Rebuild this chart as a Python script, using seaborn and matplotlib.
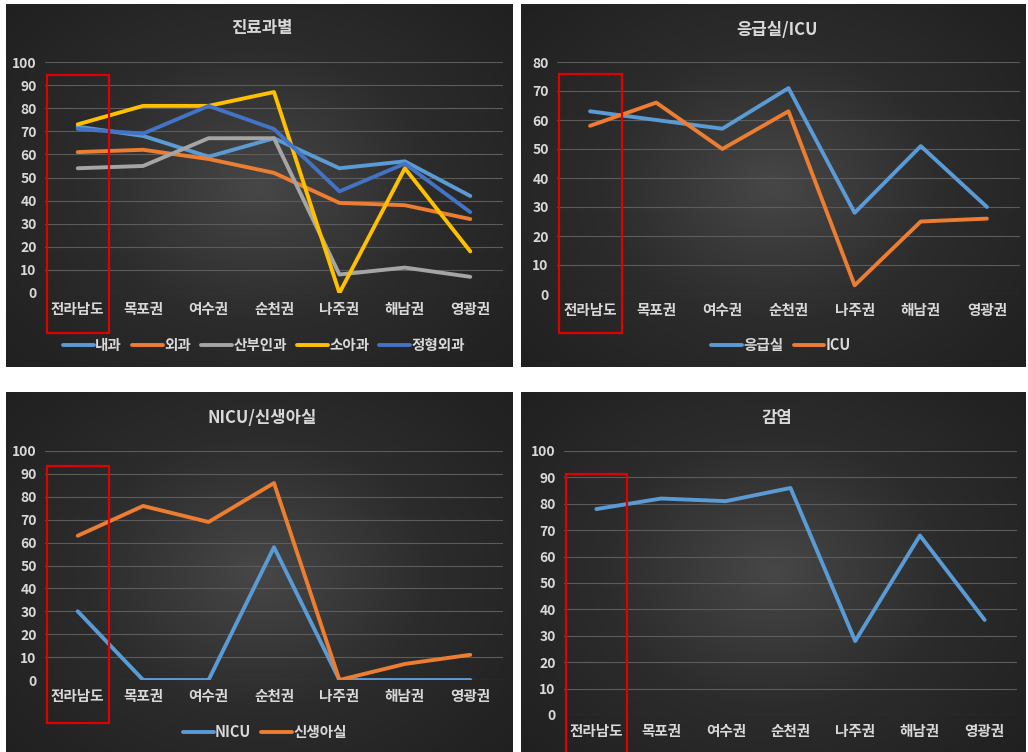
import numpy as np
import pandas as pd
import matplotlib.pyplot as plt
import seaborn as sns
from matplotlib.colors import LinearSegmentedColormap
from matplotlib.patches import Rectangle

sns.set_theme(style='dark')
plt.rcParams['font.family'] = ['Noto Sans CJK KR', 'DejaVu Sans']

# 지역 (x축)
regions = ['전라남도', '목포권', '여수권', '순천권', '나주권', '해남권', '영광권']

# 진료과별
naegwa = [72, 68, 59, 67, 54, 57, 42]
oegwa = [61, 62, 58, 52, 39, 38, 32]
sanbu = [54, 55, 67, 67, 8, 11, 7]
soa = [73, 81, 81, 87, 0, 54, 18]
jeonghyeong = [71, 69, 81, 71, 44, 56, 35]

# 응급실/ICU
er = [63, 60, 57, 71, 28, 51, 30]
icu = [58, 66, 50, 63, 3, 25, 26]

# NICU/신생아실
nicu = [30, 0, 0, 58, 0, 0, 0]
newborn = [63, 76, 69, 86, 0, 7, 11]

# 감염
infection = [78, 82, 81, 86, 28, 68, 36]

W, H = 1028, 752
BLUE, ORANGE, GRAY, YELLOW, DBLUE = '#5B9BD5', '#ED7D31', '#A5A5A5', '#FFC000', '#4472C4'
TXT = '#d9d9d9'

PAL = {'내과': BLUE, '외과': ORANGE, '산부인과': GRAY, '소아과': YELLOW, '정형외과': DBLUE,
       '응급실': BLUE, 'ICU': ORANGE, 'NICU': BLUE, '신생아실': ORANGE, '감염': BLUE}

fig = plt.figure(figsize=(W / 100, H / 100), dpi=100, facecolor='white')
bg_cmap = LinearSegmentedColormap.from_list('bg', ['#474747', '#2c2c2c', '#202020'])


def rect_px(x0, y0, x1, y1):
    return [x0 / W, 1 - y1 / H, (x1 - x0) / W, (y1 - y0) / H]


def panel_bg(x0, y0, x1, y1):
    bg = fig.add_axes(rect_px(x0, y0, x1, y1), zorder=0)
    yy, xx = np.mgrid[-1:1:200j, -1:1:300j]
    r = np.sqrt(xx ** 2 + (yy * 0.9) ** 2)
    bg.imshow(r, cmap=bg_cmap, aspect='auto', vmin=0, vmax=1.35)
    bg.axis('off')


def line_panel(area, series, ymax, title, title_xy, box, legend_xy=None):
    ax = fig.add_axes(rect_px(*area), zorder=1)
    ax.set_facecolor('none')
    df = pd.DataFrame({
        'region': regions * len(series),
        'value': sum(series.values(), []),
        'series': [k for k in series for _ in regions],
    })
    pal = {k: PAL[k] for k in series}
    sns.lineplot(data=df, x='region', y='value', hue='series', palette=pal,
                 linewidth=2.8, sort=False, legend=False, ax=ax)
    ax.set_xlim(-0.5, 6.5)
    ax.set_ylim(0, ymax)
    ax.set_yticks(range(0, ymax + 1, 10))
    ax.set_xlabel('')
    ax.set_ylabel('')
    ax.grid(axis='y', color='#5c5c5c', linewidth=0.8)
    ax.grid(axis='x', visible=False)
    for s in ax.spines.values():
        s.set_visible(False)
    ax.tick_params(axis='both', length=0, colors=TXT)
    ax.tick_params(axis='y', labelsize=10, pad=6)
    ax.tick_params(axis='x', labelsize=10.5, pad=6)
    for t in ax.get_xticklabels() + ax.get_yticklabels():
        t.set_fontweight('bold')
    fig.text(title_xy[0] / W, 1 - title_xy[1] / H, title, ha='center', va='center',
             color=TXT, fontsize=12, fontweight='bold')
    # 강조 박스 (전라남도)
    ax.add_patch(Rectangle((-0.47, box[1]), 0.95, box[0] - box[1], fill=False,
                           edgecolor='#e00000', linewidth=1.6, clip_on=False, zorder=5))
    if legend_xy is not None:
        handles = [plt.Line2D([], [], color=PAL[k], linewidth=2.8) for k in series]
        leg = fig.legend(handles, list(series), loc='center', ncol=len(series),
                         bbox_to_anchor=(legend_xy[0] / W, 1 - legend_xy[1] / H),
                         frameon=False, handlelength=2.1, handletextpad=0.1,
                         columnspacing=0.7, fontsize=10.5)
        for t in leg.get_texts():
            t.set_color(TXT)
            t.set_fontweight('bold')
    return ax


panel_bg(6, 4, 513, 367)
panel_bg(521, 4, 1026, 367)
panel_bg(6, 392, 513, 752)
panel_bg(521, 392, 1026, 752)

line_panel((45, 62, 503, 293),
           {'내과': naegwa, '외과': oegwa, '산부인과': sanbu, '소아과': soa, '정형외과': jeonghyeong},
           100, '진료과별', (262, 28), (94.5, -17.5), (264, 345))
line_panel((557, 62, 1020, 294), {'응급실': er, 'ICU': icu},
           80, '응급실/ICU', (777, 30), (76, -13.5), (781, 345))
line_panel((45, 451, 503, 680), {'NICU': nicu, '신생아실': newborn},
           100, 'NICU/신생아실', (262, 418), (93.5, -18.8), (265, 732))
line_panel((564, 451, 1017, 715), {'감염': infection},
           100, '감염', (777, 418), (91.3, -14.5))

fig.savefig('out.png', dpi=100, facecolor='white')
